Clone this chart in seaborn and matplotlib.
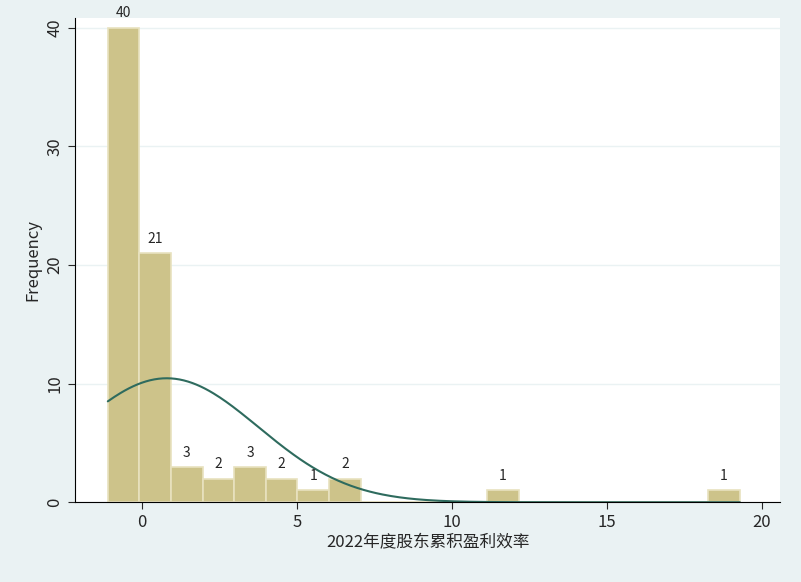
import numpy as np
import pandas as pd
import seaborn as sns
import matplotlib.pyplot as plt

# histogram bins (left edges) and counts
bin_start = -1.1
bin_width = 1.02
counts = [40, 21, 3, 2, 3, 2, 1, 2, 0, 0, 0, 0, 1, 0, 0, 0, 0, 0, 0, 1]
# normal fit parameters
mu, sigma = 0.8, 2.96

edges = bin_start + bin_width * np.arange(len(counts) + 1)
centers = (edges[:-1] + edges[1:]) / 2
df = pd.DataFrame({"x": centers, "n": counts})

sns.set_style("white")
plt.rcParams['font.family'] = ['Noto Sans CJK SC', 'DejaVu Sans']

fig = plt.figure(figsize=(8.01, 5.82), dpi=100, facecolor="#eaf2f3")
ax = fig.add_axes([0.094, 0.137, 0.88, 0.832])
ax.set_facecolor("white")

sns.histplot(data=df, x="x", weights="n", bins=list(edges), ax=ax,
             color="#cdc38a", edgecolor="#e8e2bf", linewidth=1.2, alpha=1)

xs = np.linspace(edges[0], edges[-1], 300)
ys = sum(counts) * bin_width / (sigma * np.sqrt(2 * np.pi)) * np.exp(-0.5 * ((xs - mu) / sigma) ** 2)
sns.lineplot(x=xs, y=ys, ax=ax, color="#2e6b5e", linewidth=1.5)

for c, n in zip(centers, counts):
    if n > 0:
        ax.text(c, n + 0.6, str(n), ha="center", va="bottom", fontsize=10)

ax.set_xlim(-2.15, 20.6)
ax.set_ylim(0, 40.8)
ax.set_yticks([0, 10, 20, 30, 40])
ax.set_xticks([0, 5, 10, 15, 20])
ax.tick_params(axis="y", labelrotation=90, labelsize=12, length=5, left=True)
ax.tick_params(axis="x", labelsize=12, length=5, bottom=True)
for lbl in ax.get_yticklabels():
    lbl.set_va("center")
ax.yaxis.grid(True, color="#eaf2f3", linewidth=1)
ax.set_axisbelow(True)
for s in ["top", "right"]:
    ax.spines[s].set_visible(False)
ax.spines["left"].set_color("black")
ax.spines["bottom"].set_color("black")
ax.set_ylabel("Frequency", fontsize=12)
ax.set_xlabel("2022年度股东累积盈利效率", fontsize=12, labelpad=2)

fig.savefig("out.png", dpi=100, facecolor=fig.get_facecolor())
